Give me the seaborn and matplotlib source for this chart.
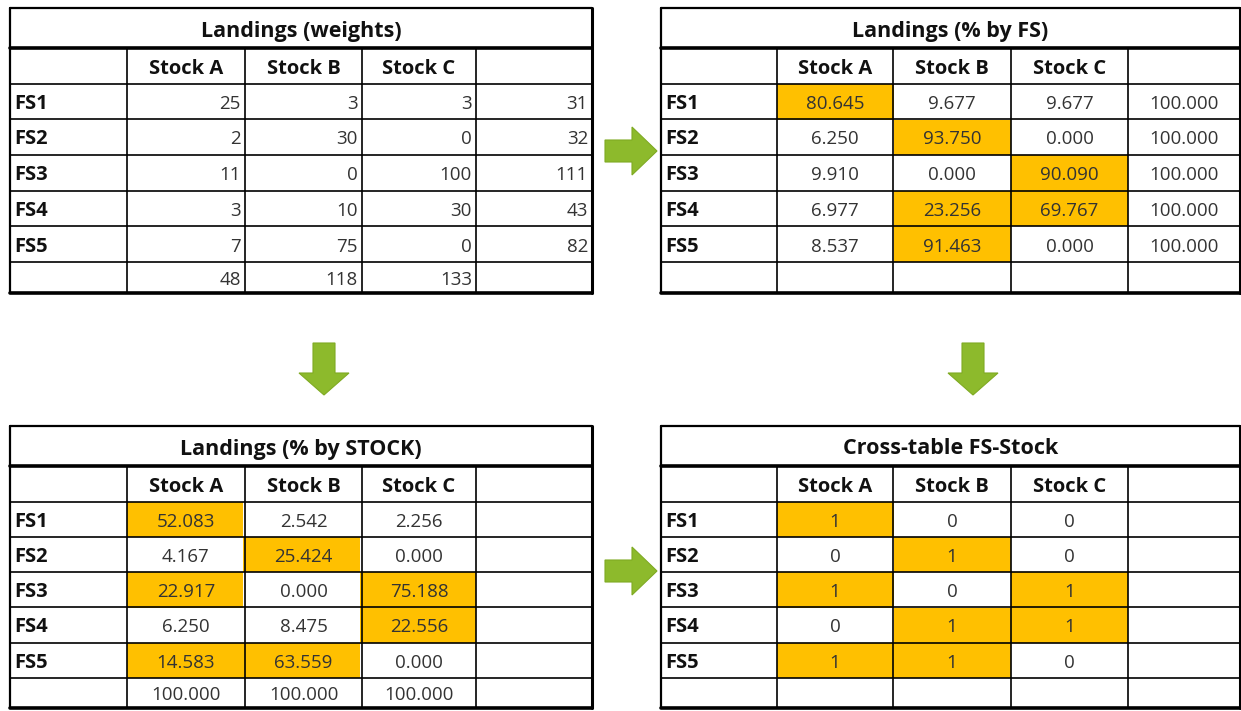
import matplotlib
matplotlib.use('Agg')
import matplotlib.pyplot as plt
import seaborn as sns
import numpy as np
from matplotlib.colors import ListedColormap
from matplotlib.patches import Polygon

# --- data ---
fs_labels = ['FS1', 'FS2', 'FS3', 'FS4', 'FS5']
stock_labels = ['Stock A', 'Stock B', 'Stock C']

weights = [[25, 3, 3], [2, 30, 0], [11, 0, 100], [3, 10, 30], [7, 75, 0]]
weights_row_totals = [31, 32, 111, 43, 82]
weights_col_totals = [48, 118, 133]

pct_by_fs = [[80.645, 9.677, 9.677], [6.250, 93.750, 0.000], [9.910, 0.000, 90.090],
             [6.977, 23.256, 69.767], [8.537, 91.463, 0.000]]
pct_by_fs_totals = [100.000, 100.000, 100.000, 100.000, 100.000]
pct_by_fs_flag = [[1, 0, 0], [0, 1, 0], [0, 0, 1], [0, 1, 1], [0, 1, 0]]

pct_by_stock = [[52.083, 2.542, 2.256], [4.167, 25.424, 0.000], [22.917, 0.000, 75.188],
                [6.250, 8.475, 22.556], [14.583, 63.559, 0.000]]
pct_by_stock_totals = [100.000, 100.000, 100.000]
pct_by_stock_flag = [[1, 0, 0], [0, 1, 0], [1, 0, 1], [0, 0, 1], [1, 1, 0]]

cross_table = [[1, 0, 0], [0, 1, 0], [1, 0, 1], [0, 1, 1], [1, 1, 0]]

sns.set_theme(style='white')
plt.rcParams['font.family'] = ['Open Sans', 'DejaVu Sans']

W, H = 1241, 711
fig = plt.figure(figsize=(W / 100, H / 100), dpi=100)

ORANGE = '#FFC000'
GREEN = '#8DBA2C'
TXT = '#333333'

cols_left = [10, 127, 245, 362, 476, 592]
cols_right = [661, 777, 893, 1011, 1128, 1240]
rows_top = [8, 48, 84, 119, 155, 191, 226, 262, 293]
rows_bottom = [426, 466, 502, 537, 572, 607, 643, 678, 708]


def add_fill(cols, rows, flags):
    ax = fig.add_axes([cols[1] / W, 1 - rows[7] / H,
                       (cols[4] - cols[1]) / W, (rows[7] - rows[2]) / H])
    sns.heatmap(np.array(flags), ax=ax, cmap=ListedColormap(['white', ORANGE]),
                vmin=0, vmax=1, cbar=False, xticklabels=False, yticklabels=False)
    ax.axis('off')


# fills first, overlay drawn on top
add_fill(cols_left, rows_top, np.zeros((5, 3)))
add_fill(cols_right, rows_top, pct_by_fs_flag)
add_fill(cols_left, rows_bottom, pct_by_stock_flag)
add_fill(cols_right, rows_bottom, cross_table)

ov = fig.add_axes([0, 0, 1, 1])
ov.set_xlim(0, W)
ov.set_ylim(H, 0)
ov.axis('off')
ov.patch.set_alpha(0)


def draw_grid(cols, rows, title):
    x0, x1 = cols[0], cols[-1]
    for y in rows[2:8]:
        ov.plot([x0, x1], [y, y], color='black', lw=1.2)
    for x in cols[1:5]:
        ov.plot([x, x], [rows[1], rows[8]], color='black', lw=1.2)
    ov.plot([x0, x1], [rows[1], rows[1]], color='black', lw=2.6)
    ov.plot([x0, x1], [rows[8], rows[8]], color='black', lw=2.6)
    ov.plot([x0, x1], [rows[0], rows[0]], color='black', lw=1.6)
    ov.plot([x0, x0], [rows[0], rows[8]], color='black', lw=1.6)
    ov.plot([x1, x1], [rows[0], rows[8]], color='black', lw=2.2)
    ov.text((x0 + x1) / 2, (rows[0] + rows[1]) / 2 + 3, title, ha='center', va='center',
            fontsize=15.5, fontweight='bold', color='#111111')
    for j, s in enumerate(stock_labels):
        ov.text((cols[j + 1] + cols[j + 2]) / 2, (rows[1] + rows[2]) / 2 + 3, s,
                ha='center', va='center', fontsize=14.5, fontweight='bold', color='#111111')
    for i, s in enumerate(fs_labels):
        ov.text(cols[0] + 4, (rows[i + 2] + rows[i + 3]) / 2 + 2.5, s,
                ha='left', va='center', fontsize=14.5, fontweight='bold', color='#111111')


def put(cols, rows, i, j, s, align):
    yc = (rows[i] + rows[i + 1]) / 2 + 2.5
    if align == 'right':
        ov.text(cols[j + 1] - 4, yc, s, ha='right', va='center', fontsize=13.5, color=TXT)
    else:
        ov.text((cols[j] + cols[j + 1]) / 2, yc, s, ha='center', va='center',
                fontsize=13.5, color=TXT)


# Landings (weights)
draw_grid(cols_left, rows_top, 'Landings (weights)')
for i in range(5):
    for j in range(3):
        put(cols_left, rows_top, i + 2, j + 1, f'{weights[i][j]}', 'right')
    put(cols_left, rows_top, i + 2, 4, f'{weights_row_totals[i]}', 'right')
for j in range(3):
    put(cols_left, rows_top, 7, j + 1, f'{weights_col_totals[j]}', 'right')

# Landings (% by FS)
draw_grid(cols_right, rows_top, 'Landings (% by FS)')
for i in range(5):
    for j in range(3):
        put(cols_right, rows_top, i + 2, j + 1, f'{pct_by_fs[i][j]:.3f}', 'center')
    put(cols_right, rows_top, i + 2, 4, f'{pct_by_fs_totals[i]:.3f}', 'center')

# Landings (% by STOCK)
draw_grid(cols_left, rows_bottom, 'Landings (% by STOCK)')
for i in range(5):
    for j in range(3):
        put(cols_left, rows_bottom, i + 2, j + 1, f'{pct_by_stock[i][j]:.3f}', 'center')
for j in range(3):
    put(cols_left, rows_bottom, 7, j + 1, f'{pct_by_stock_totals[j]:.3f}', 'center')

# Cross-table FS-Stock
draw_grid(cols_right, rows_bottom, 'Cross-table FS-Stock')
for i in range(5):
    for j in range(3):
        put(cols_right, rows_bottom, i + 2, j + 1, f'{cross_table[i][j]}', 'center')


def right_arrow(xs, yc):
    pts = [(xs, yc - 11), (xs + 27, yc - 11), (xs + 27, yc - 24), (xs + 52, yc),
           (xs + 27, yc + 24), (xs + 27, yc + 11), (xs, yc + 11)]
    ov.add_patch(Polygon(pts, closed=True, facecolor=GREEN, edgecolor='#7FAA22', lw=0.8))


def down_arrow(xc, ys):
    pts = [(xc - 11, ys), (xc + 11, ys), (xc + 11, ys + 30), (xc + 25, ys + 30),
           (xc, ys + 52), (xc - 25, ys + 30), (xc - 11, ys + 30)]
    ov.add_patch(Polygon(pts, closed=True, facecolor=GREEN, edgecolor='#7FAA22', lw=0.8))


right_arrow(605, 151)
right_arrow(605, 571)
down_arrow(324, 343)
down_arrow(973, 343)

fig.savefig('out.png', dpi=100)
